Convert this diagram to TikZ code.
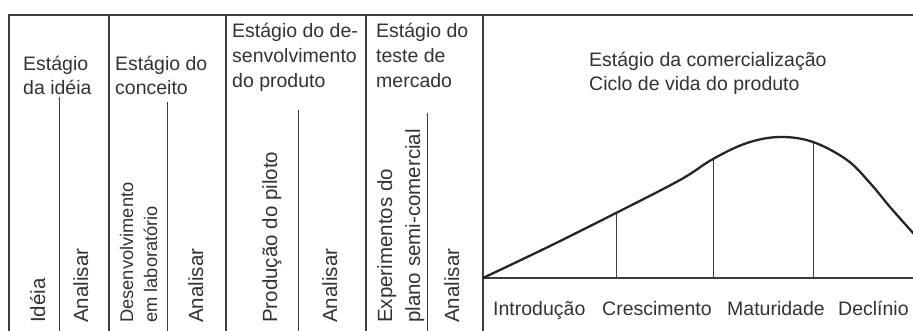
\documentclass[tikz,border=0pt]{standalone}
\usepackage{fontspec}
\setmainfont{Liberation Sans}
\definecolor{ink}{HTML}{333333}
\definecolor{rulec}{HTML}{3c3c3c}
\tikzset{
  ht/.style={font=\fontsize{19.5}{23}\selectfont, text=ink, inner sep=0pt, anchor=base west},
  vt/.style={font=\fontsize{20.5}{24}\selectfont, text=ink, inner sep=0pt, anchor=base west, rotate=90},
  vts/.style={vt, font=\fontsize{18.3}{22}\selectfont},
  rule/.style={draw=rulec, line width=1.1pt},
  thin/.style={draw=rulec, line width=0.9pt},
  curve/.style={draw=black!85, line width=2.3pt, line join=round},
}
\begin{document}
\begin{tikzpicture}[x=1pt,y=-1pt]
\useasboundingbox (0,0) rectangle (913,331);
\fill[white] (0,0) rectangle (913,331);
\begin{scope}
\clip (0,0) rectangle (913,331);
% frame
\draw[rule] (9,331) -- (9,15) -- (913,15);
\foreach \x in {109,226,366,483} \draw[rule] (\x,15) -- (\x,331);
% inner separators
\draw[thin] (59,97) -- (59,331);
\draw[thin] (167,102) -- (167,331);
\draw[thin] (298,110) -- (298,331);
\draw[thin] (427,113) -- (427,331);
% commercialisation chart
\draw[rule] (483,278) -- (913,278);
\draw[thin] (616,213) -- (616,278);
\draw[thin] (713,159) -- (713,278);
\draw[thin] (813,142) -- (813,278);
\draw[curve] plot[smooth, tension=0.6] coordinates {(483,278) (550,246) (616,213) (680,180) (713,159) (747,143) (780,137) (813,142) (847,160) (870,183) (890,207) (913,233) (935,258)};
\end{scope}
% headers
\node[ht] (h1a) at (23,71) {Estágio};
\node[ht] (h1b) at (23,95) {da idéia};
\node[ht] (h2a) at (115,71) {Estágio do};
\node[ht] (h2b) at (115,95) {conceito};
\node[ht] (h3a) at (232,38) {Estágio do de-};
\node[ht] (h3b) at (232,63) {senvolvimento};
\node[ht] (h3c) at (232,88) {do produto};
\node[ht] (h4a) at (376,38) {Estágio do};
\node[ht] (h4b) at (376,63) {teste de};
\node[ht] (h4c) at (376,88) {mercado};
\node[ht] (h5a) at (589,67) {Estágio da comercialização};
\node[ht] (h5b) at (589,91) {Ciclo de vida do produto};
% vertical labels
\node[vt] (v1) at (45,323) {Idéia};
\node[vt] (v2) at (88,323) {Analisar};
\node[vts] (v3) at (133,323) {Desenvolvimento};
\node[vts] (v4) at (157,323) {em laboratório};
\node[vt] (v5) at (203,323) {Analisar};
\node[vt] (v6) at (277,323) {Produção do piloto};
\node[vt] (v7) at (337,323) {Analisar};
\node[vt] (v8) at (392,323) {Experimentos do};
\node[vt] (v9) at (420,323) {plano semi-comercial};
\node[vt] (v10) at (459,323) {Analisar};
% phase labels
\node[ht] (p1) at (493,315) {Introdução};
\node[ht] (p2) at (602,315) {Crescimento};
\node[ht] (p3) at (727,315) {Maturidade};
\node[ht] (p4) at (838,315) {Declínio};
\end{tikzpicture}
\end{document}
